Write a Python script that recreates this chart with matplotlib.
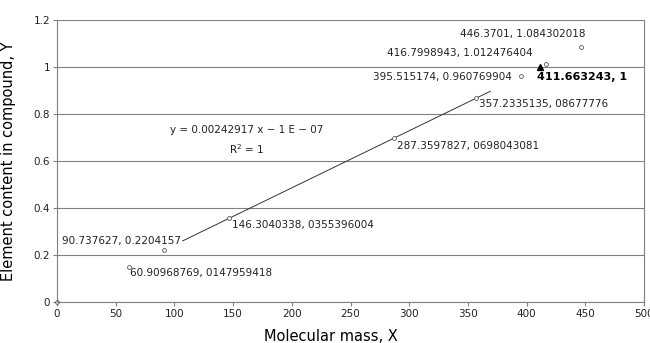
import matplotlib
matplotlib.use("Agg")
import matplotlib.pyplot as plt
import numpy as np

# data points (molecular mass, element content)
mass = [60.90968769, 90.737627, 146.3040338, 287.3597827, 357.2335135,
        395.515174, 416.7998943, 446.3701]
content = [0.147959418, 0.2204157, 0.355396004, 0.698043081, 0.8677776,
           0.960769904, 1.012476404, 1.084302018]
labels = ["60.90968769, 0147959418", "90.737627, 0.2204157",
          "146.3040338, 0355396004", "287.3597827, 0698043081",
          "357.2335135, 08677776", "395.515174, 0.960769904",
          "416.7998943, 1.012476404", "446.3701, 1.084302018"]
target_x, target_y = 411.663243, 1
slope, intercept = 0.00242917, -1e-07
fit_range = [107, 369]

plt.rcParams['font.family'] = ['DejaVu Sans']
fig = plt.figure(figsize=(6.5, 3.43), dpi=100)
ax = fig.add_axes([57 / 650, 1 - 302 / 343, 587 / 650, 282 / 343])

gray = '#808080'
ax.set_xlim(0, 500)
ax.set_ylim(0, 1.2)
ax.set_xticks(np.arange(0, 501, 50))
ax.set_yticks([0, 0.2, 0.4, 0.6, 0.8, 1, 1.2])
ax.set_yticklabels(['0', '0.2', '0.4', '0.6', '0.8', '1', '1.2'])
ax.grid(axis='y', color=gray, linewidth=0.8)
ax.set_axisbelow(True)
for s in ['left', 'bottom', 'right']:
    ax.spines[s].set_color(gray)
    ax.spines[s].set_linewidth(0.8)
ax.spines['top'].set_visible(False)
ax.tick_params(axis='both', direction='out', length=3, color=gray,
               labelsize=7.5, labelcolor='#222222', pad=2)

# trend line
fx = np.array(fit_range)
ax.plot(fx, slope * fx + intercept, color='#333333', linewidth=0.7)

ax.plot(mass, content, 'o', markersize=2.8, markerfacecolor='white',
        markeredgecolor='#555555', markeredgewidth=0.6, linestyle='none')
ax.plot([0], [0], 'D', markersize=2.5, markerfacecolor='white',
        markeredgecolor='#555555', markeredgewidth=0.6, clip_on=False)
ax.plot([target_x], [target_y], '^', markersize=4, color='black')

# label positions (data coords)
pos = [(62.2, 0.1234, 'left'), (105.6, 0.2596, 'right'),
       (149.1, 0.3277, 'left'), (289.6, 0.664, 'left'),
       (359.5, 0.8426, 'left'), (387.6, 0.957, 'right'),
       (281.1, 1.0596, 'left'), (343.3, 1.140, 'left')]
for lab, (px, py, ha) in zip(labels, pos):
    ax.text(px, py, lab, fontsize=7.5, ha=ha, va='center', color='#222222')
ax.text(408.9, 0.957, f"{target_x}, {target_y}", fontsize=8, fontweight='bold',
        ha='left', va='center', color='black')

ax.text(161.8, 0.732, "y = 0.00242917 x \u2212 1 E \u2212 07", fontsize=7.5,
        ha='center', va='center', color='#222222')
ax.text(161.8, 0.651, "R$^2$ = 1", fontsize=7.5, ha='center', va='center',
        color='#222222')

ax.set_xlabel("Molecular mass, X", fontsize=10.5)
ax.set_ylabel("Element content in compound, Y", fontsize=10.5)
ax.xaxis.set_label_coords(0.467, -0.095)
ax.yaxis.set_label_coords(-0.07, 0.5)

fig.savefig("out.png", dpi=100)
